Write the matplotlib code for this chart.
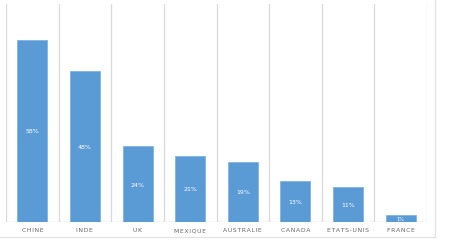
import matplotlib.pyplot as plt
from matplotlib.lines import Line2D

# Data
pays = ['CHINE', 'INDE', 'UK', 'MEXIQUE', 'AUSTRALIE', 'CANADA', 'ETATS-UNIS', 'FRANCE']
valeurs = [58, 48, 24, 21, 19, 13, 11, 2.2]
etiquettes = ['58%', '48%', '24%', '21%', '19%', '13%', '11%', '1%']

BAR_COLOR = '#5b9bd5'
GRID_COLOR = '#d9d9d9'

fig = plt.figure(figsize=(4.6, 2.53), dpi=100)
ax = fig.add_axes([6 / 460, 1 - 222.7 / 253, 421 / 460, 219.6 / 253])

x = range(len(pays))
bars = ax.bar(x, valeurs, width=0.57, color=BAR_COLOR, edgecolor='#7fb2e0',
              linewidth=0.6, zorder=3)

# labels inside the bars
for b, v, t in zip(bars, valeurs, etiquettes):
    ax.text(b.get_x() + b.get_width() / 2, v / 2, t, ha='center',
            va='center', color='white', fontsize=4.5 if v > 5 else 3.5, zorder=4)

# vertical separators between categories
for xi in [i - 0.5 for i in range(len(pays) + 1)]:
    ax.axvline(xi, ymax=0.99, color=GRID_COLOR, linewidth=0.9, zorder=1)
ax.axhline(0, color=GRID_COLOR, linewidth=1.0, zorder=2)

ax.set_xlim(-0.5, len(pays) - 0.5)
ax.set_ylim(0, 70)
ax.set_xticks(list(x))
# letter-spaced category names
ax.set_xticklabels(['\u200a'.join(p) for p in pays], fontsize=4.4, color='#666666')
for lbl in ax.get_xticklabels():
    lbl.set_verticalalignment('baseline')
ax.tick_params(axis='x', length=0, pad=7)
ax.set_yticks([])
for s in ax.spines.values():
    s.set_visible(False)

# outer chart frame (right and bottom edges)
fig.add_artist(Line2D([435 / 460, 435 / 460], [1 - 238 / 253, 1.0],
                      transform=fig.transFigure, color='#e3e3e3', linewidth=0.9))
fig.add_artist(Line2D([0, 435 / 460], [1 - 238 / 253, 1 - 238 / 253],
                      transform=fig.transFigure, color='#e3e3e3', linewidth=0.9))

fig.savefig('out.png', dpi=100)
